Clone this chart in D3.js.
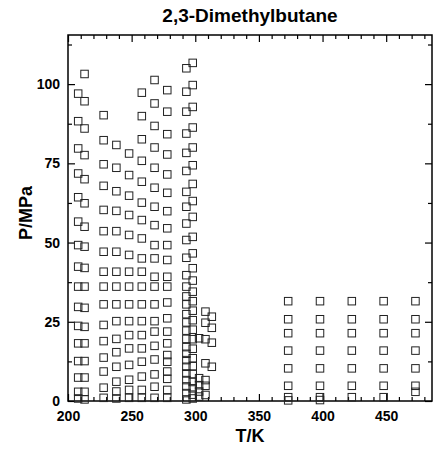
<!DOCTYPE html>
<html>
<head>
<meta charset="utf-8">
<script src="https://cdn.jsdelivr.net/npm/d3@7"></script>
<style>
  body { margin: 0; background: #fff; }
  text { font-family: "Liberation Sans", Arial, sans-serif; font-weight: bold; fill: #000; }
  .axis path { display: none; }
  .axis line { stroke: #000; stroke-width: 1.2; }
</style>
</head>
<body>
<svg id="chart" width="441" height="449"></svg>
<script>
var p208 = [97.0, 88.3, 79.7, 71.8, 64.3, 56.6, 49.2, 42.4, 36.1, 29.7, 23.7, 18.2, 12.6, 7.4, 2.9, 0.8]
var p213 = [103.2, 94.6, 86.0, 77.6, 70.0, 62.4, 55.0, 48.7, 42.0, 36.1, 29.4, 23.4, 18.2, 12.6, 7.4, 2.9, 0.5]
var p228 = [90.2, 82.3, 74.7, 67.9, 60.3, 53.6, 47.1, 40.8, 36.1, 30.5, 24.0, 18.9, 13.7, 9.3, 4.2, 1.0]
var p238 = [80.8, 73.6, 66.2, 60.0, 53.6, 47.1, 40.8, 36.1, 30.5, 25.2, 19.6, 15.4, 10.8, 6.1, 3.0, 0.8]
var p248 = [78.1, 71.3, 64.8, 58.7, 52.4, 46.1, 40.8, 36.1, 30.5, 25.2, 20.8, 16.6, 11.4, 6.7, 3.5, 1.0]
var p258 = [97.3, 89.9, 82.6, 75.8, 69.2, 62.6, 57.1, 51.3, 45.0, 40.8, 36.1, 30.5, 25.2, 20.8, 16.6, 12.4, 7.7, 3.5, 1.0]
var p268 = [101.3, 93.9, 86.8, 80.0, 73.6, 67.3, 61.3, 55.5, 49.2, 45.0, 39.2, 36.1, 30.5, 25.2, 21.9, 17.4, 13.1, 8.4, 4.5, 1.0]
var p278 = [98.1, 91.3, 84.2, 77.8, 71.5, 65.7, 59.9, 54.5, 49.2, 44.5, 39.2, 36.1, 31.1, 26.1, 21.9, 18.2, 14.5, 12.4, 9.3, 7.0, 3.5, 1.0]
var p293 = [105.0, 97.6, 91.3, 84.4, 78.3, 72.6, 66.0, 61.3, 56.0, 50.8, 45.2, 39.7, 36.1, 33.0, 30.5, 27.4, 24.8, 22.2, 19.6, 17.0, 14.9, 12.9, 10.8, 8.7, 6.6, 4.6, 2.5, 0.5]
var p298 = [106.7, 99.7, 92.8, 86.3, 80.0, 74.4, 68.5, 63.1, 58.1, 51.8, 46.6, 41.9, 38.0, 34.5, 31.5, 28.5, 25.5, 22.5, 19.5, 16.5, 13.5, 11.0, 8.5, 6.0, 4.0, 2.0, 0.8]
var p303 = [19.8, 7.2, 5.0, 3.0, 1.4]
var p308 = [28.2, 24.7, 19.5, 11.9, 6.6, 4.8, 1.9]
var p313 = [26.6, 23.1, 18.4, 10.8]
var p373 = [31.5, 25.8, 21.4, 15.9, 10.3, 4.8, 1.2, 0.2]
var p398 = [31.5, 25.8, 21.4, 15.9, 10.3, 4.8, 1.2, 0.3]
var p423 = [31.5, 25.8, 21.4, 15.9, 10.3, 4.8, 1.2]
var p448 = [31.5, 25.8, 21.4, 15.9, 10.3, 4.8, 1.2]
var p473 = [31.5, 25.8, 21.4, 15.9, 10.3, 4.8, 2.9]

var temps = [208, 213, 228, 238, 248, 258, 268, 278, 293, 298, 303, 308, 313, 373, 398, 423, 448, 473]
var pressures = [p208, p213, p228, p238, p248, p258, p268, p278, p293, p298, p303, p308, p313, p373, p398, p423, p448, p473]

var xMajor = [200, 250, 300, 350, 400, 450]
var yMajor = [0, 25, 50, 75, 100]

var points = []
temps.forEach(function(t, i) {
    pressures[i].forEach(function(p) { points.push({T: t, P: p}) })
})

var margin = {left: 68, right: 9, top: 35, bottom: 48}
var graph = {width: 441 - margin.left - margin.right, height: 449 - margin.top - margin.bottom}

var svg = d3.select("#chart")
var target = svg.append("g")
    .attr("transform", "translate(" + margin.left + "," + margin.top + ")")

var xScale = d3.scaleLinear().domain([200, 486]).range([0, graph.width])
var yScale = d3.scaleLinear().domain([0, 115.5]).range([graph.height, 0])

var xMinor = d3.range(200, 481, 10).filter(d => d % 50 != 0)
var yMinor = d3.range(12.5, 115, 25)

// ticks on all four sides, pointing inward
var drawAxes = function() {
    target.append("g").attr("class", "axis")
        .attr("transform", "translate(0," + graph.height + ")")
        .call(d3.axisBottom(xScale).tickValues(xMajor).tickSize(-7).tickPadding(10))
        .selectAll("text").style("font-size", "14px")
    target.append("g").attr("class", "axis")
        .attr("transform", "translate(0," + graph.height + ")")
        .call(d3.axisBottom(xScale).tickValues(xMinor).tickSize(-4).tickFormat(""))
    target.append("g").attr("class", "axis")
        .call(d3.axisTop(xScale).tickValues(xMajor).tickSize(-7).tickFormat(""))
    target.append("g").attr("class", "axis")
        .call(d3.axisTop(xScale).tickValues(xMinor).tickSize(-4).tickFormat(""))

    target.append("g").attr("class", "axis")
        .call(d3.axisLeft(yScale).tickValues(yMajor).tickSize(-7).tickPadding(8))
        .selectAll("text").style("font-size", "14px")
    target.append("g").attr("class", "axis")
        .call(d3.axisLeft(yScale).tickValues(yMinor).tickSize(-4).tickFormat(""))
    target.append("g").attr("class", "axis")
        .attr("transform", "translate(" + graph.width + ",0)")
        .call(d3.axisRight(yScale).tickValues(yMajor).tickSize(-7).tickFormat(""))
    target.append("g").attr("class", "axis")
        .attr("transform", "translate(" + graph.width + ",0)")
        .call(d3.axisRight(yScale).tickValues(yMinor).tickSize(-4).tickFormat(""))

    target.append("rect")
        .attr("width", graph.width)
        .attr("height", graph.height)
        .attr("fill", "none")
        .attr("stroke", "#000")
        .attr("stroke-width", 1.5)
}

var drawPoints = function() {
    var size = 7.5
    target.selectAll(".pt")
        .data(points)
        .enter()
        .append("rect")
        .attr("class", "pt")
        .attr("x", d => xScale(d.T) - size / 2)
        .attr("y", d => yScale(d.P) - size / 2)
        .attr("width", size)
        .attr("height", size)
        .attr("fill", "none")
        .attr("stroke", "#222")
        .attr("stroke-width", 1)
}

var drawLabels = function() {
    svg.append("text")
        .text("2,3-Dimethylbutane")
        .style("font-size", "19px")
        .attr("text-anchor", "middle")
        .attr("x", margin.left + graph.width / 2)
        .attr("y", 22)

    svg.append("text")
        .text("T/K")
        .style("font-size", "18px")
        .attr("text-anchor", "middle")
        .attr("x", margin.left + graph.width / 2)
        .attr("y", 442)

    svg.append("text")
        .text("P/MPa")
        .style("font-size", "18px")
        .attr("text-anchor", "middle")
        .attr("transform", "translate(32," + (margin.top + graph.height / 2 - 5) + ") rotate(-90)")
}

drawAxes()
drawPoints()
drawLabels()
</script>
</body>
</html>
